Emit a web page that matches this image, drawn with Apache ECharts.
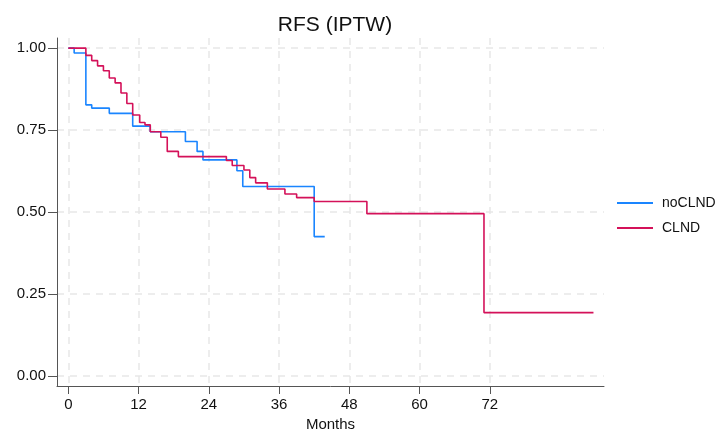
<!DOCTYPE html>
<html>
<head>
<meta charset="utf-8">
<title>RFS (IPTW)</title>
<script src="https://cdn.jsdelivr.net/npm/echarts@6/dist/echarts.min.js"></script>
<style>
html, body { margin: 0; padding: 0; background: #fff; }
#chart { width: 724px; height: 437px; }
</style>
</head>
<body>
<div id="chart"></div>
<script>
// step curves: [month, survival] -- value holds until next point
var noCLND = [
    [0, 1.0], [1, 0.985], [3, 0.827], [4, 0.817], [7, 0.801],
    [11, 0.762], [14, 0.745], [20, 0.715], [22, 0.685], [23, 0.659],
    [28.8, 0.626], [29.8, 0.578], [42, 0.425], [43.8, 0.425]
];
var CLND = [
    [0, 1.0], [3, 0.978], [4, 0.962], [5, 0.946], [6, 0.931], [7, 0.909],
    [8, 0.894], [9, 0.863], [10, 0.831], [11, 0.796], [12.2, 0.773],
    [13.1, 0.766], [14, 0.745], [15.8, 0.728], [16.9, 0.685], [18.8, 0.669],
    [27, 0.657], [28, 0.642], [30, 0.628], [31, 0.605], [32, 0.589],
    [34, 0.570], [37, 0.555], [39, 0.544], [42, 0.532], [51, 0.495],
    [71, 0.193], [89.7, 0.193]
];
var xTicks = [0, 12, 24, 36, 48, 60, 72];
var yTicks = [0, 0.25, 0.5, 0.75, 1];

var font = '"Liberation Sans", Arial, Helvetica, sans-serif';
var gridLine = { show: true, lineStyle: { color: '#e8e8e8', width: 1.5, type: [7, 6] } };
var axisLine = { show: true, onZero: false, lineStyle: { color: '#555', width: 1 } };

var chart = echarts.init(document.getElementById('chart'));
chart.setOption({
    animation: false,
    textStyle: { fontFamily: font },
    title: {
        text: 'RFS (IPTW)',
        left: 330, textAlign: 'center', top: 10,
        textStyle: { fontSize: 21, fontWeight: 'normal', color: '#111', fontFamily: font }
    },
    legend: {
        orient: 'vertical',
        left: 612, top: 191,
        icon: 'rect',
        itemWidth: 36, itemHeight: 2, itemGap: 11,
        textStyle: { fontSize: 14, color: '#111', padding: [0, 0, 0, 4] },
        data: ['noCLND', 'CLND']
    },
    grid: { left: 57, right: 120, top: 38, bottom: 48 },
    xAxis: {
        type: 'value', min: -1.93, max: 91.5,
        name: 'Months', nameLocation: 'middle', nameGap: 31,
        nameTextStyle: { fontSize: 15, color: '#111' },
        axisLine: axisLine,
        axisTick: { show: true, length: 8, customValues: xTicks, lineStyle: { color: '#555' } },
        axisLabel: { customValues: xTicks, fontSize: 15, color: '#111', margin: 11 },
        splitLine: gridLine
    },
    yAxis: {
        type: 'value', min: -0.031, max: 1.031,
        axisLine: axisLine,
        axisTick: { show: true, length: 9, customValues: yTicks, lineStyle: { color: '#555' } },
        axisLabel: {
            customValues: yTicks, fontSize: 15, color: '#111', margin: 11,
            formatter: function (v) { return v.toFixed(2); }
        },
        splitLine: gridLine
    },
    series: [
        {
            name: 'noCLND', type: 'line', step: 'end', symbol: 'none',
            data: noCLND,
            lineStyle: { color: '#1a85ff', width: 1.6 },
            itemStyle: { color: '#1a85ff' }
        },
        {
            name: 'CLND', type: 'line', step: 'end', symbol: 'none',
            data: CLND,
            lineStyle: { color: '#d41159', width: 1.6 },
            itemStyle: { color: '#d41159' }
        }
    ]
});
</script>
</body>
</html>
